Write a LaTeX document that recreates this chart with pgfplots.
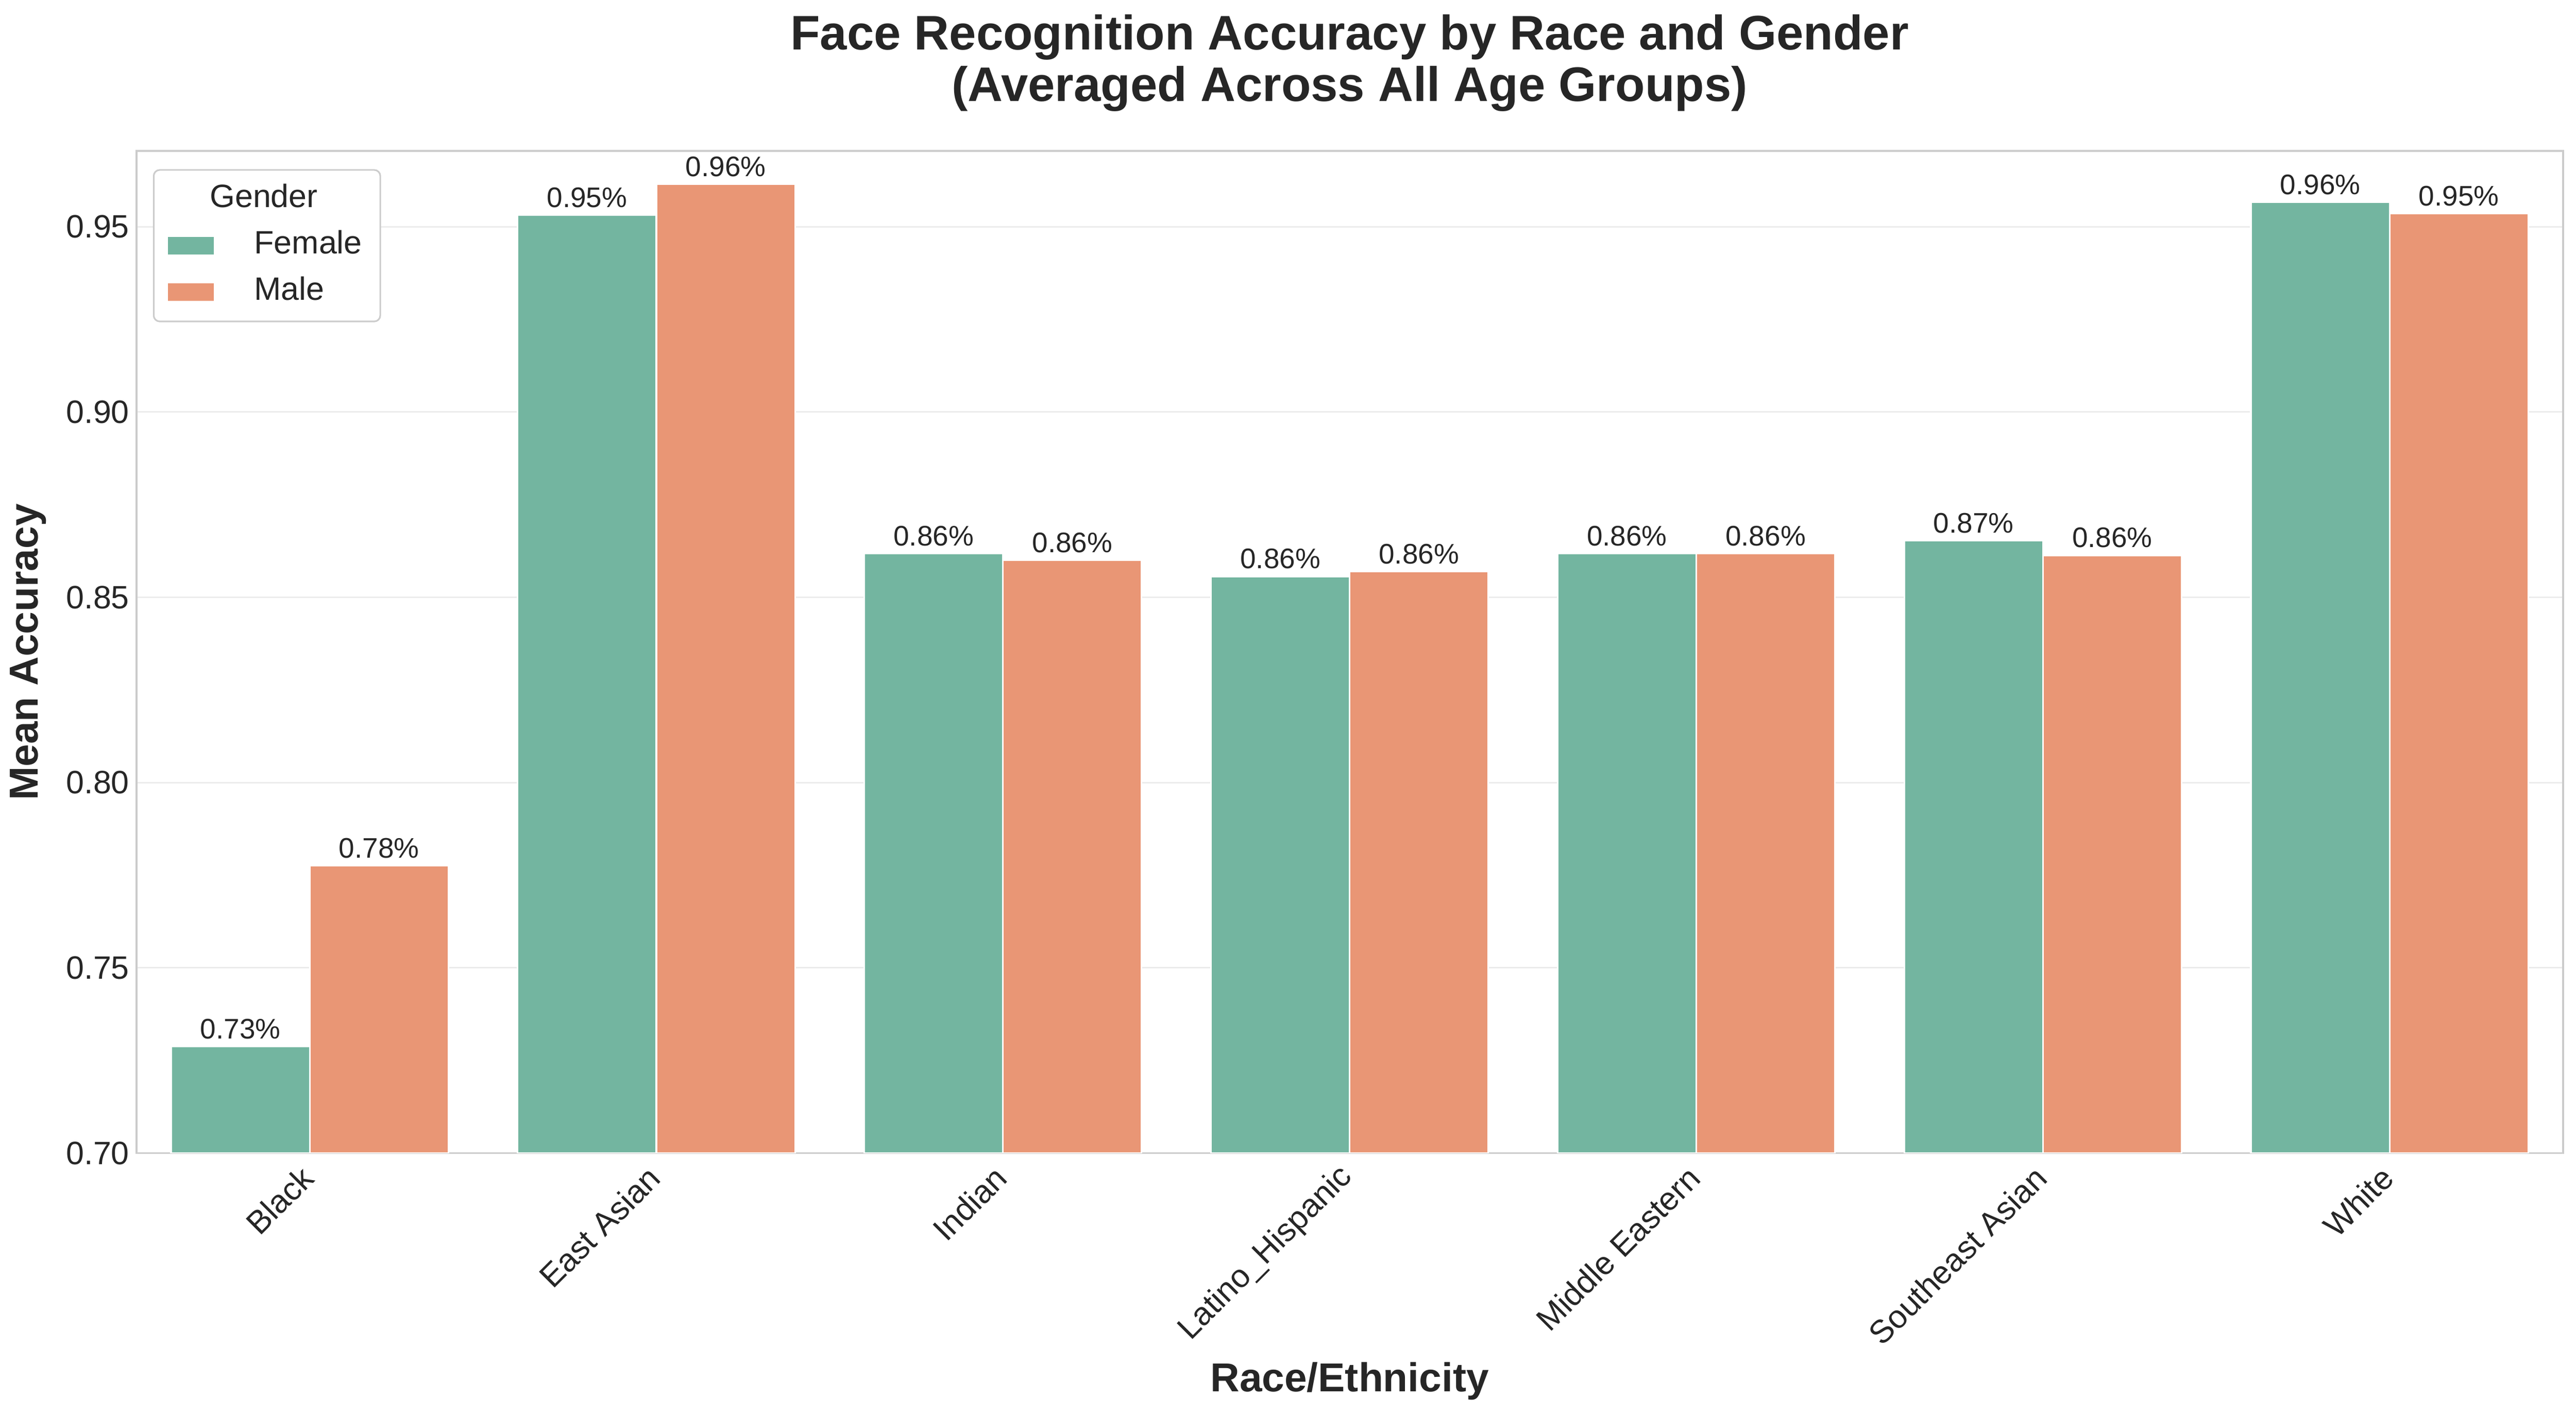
\documentclass[border=0pt]{standalone}
\usepackage{fontspec}
\setmainfont{Liberation Sans}
\usepackage{pgfplots}
\usepackage{pgfplotstable}
\pgfplotsset{compat=1.18}

\definecolor{fem}{RGB}{115,181,160}
\definecolor{mal}{RGB}{233,150,117}
\definecolor{txt}{RGB}{38,38,38}
\definecolor{framec}{RGB}{204,204,204}
\definecolor{gridc}{RGB}{236,236,236}

% mean accuracy per race, female / male
\pgfplotstableread{
x female male
0 0.7288 0.7776
1 0.9531 0.9615
2 0.8618 0.8600
3 0.8556 0.8569
4 0.8618 0.8618
5 0.8653 0.8613
6 0.9566 0.9535
}\acc

\begin{document}
\begin{tikzpicture}
\begin{axis}[
  width=1201pt, height=496pt, scale only axis,
  ybar=0pt, bar width=0.4,
  xmin=-0.5, xmax=6.5, ymin=0.7, ymax=0.9704,
  xtick={0,...,6},
  xticklabels={Black, East Asian, Indian, Latino\_Hispanic, Middle Eastern, Southeast Asian, White},
  ytick={0.70,0.75,...,0.96},
  yticklabel style={/pgf/number format/fixed, /pgf/number format/fixed zerofill, /pgf/number format/precision=2},
  /pgf/number format/assume math mode=true,
  major tick length=0pt,
  axis line style={framec, line width=1pt},
  ymajorgrids, grid style={gridc, line width=0.8pt},
  tick label style={font=\fontsize{16}{19}\selectfont, text=txt},
  xticklabel style={rotate=45, anchor=east, xshift=-4pt, yshift=-6pt},
  ylabel={Mean Accuracy},
  ylabel style={font=\fontsize{20}{24}\selectfont\bfseries, text=txt, at={(axis description cs:-0.0445,0.5)}, anchor=center},
  xlabel={Race/Ethnicity},
  xlabel style={font=\fontsize{20}{24}\selectfont\bfseries, text=txt, at={(axis description cs:0.5,0)}, anchor=center, yshift=-113pt},
  title={Face Recognition Accuracy by Race and Gender\\(Averaged Across All Age Groups)},
  title style={font=\fontsize{24}{25.5}\selectfont\bfseries, text=txt, align=center, at={(axis description cs:0.5,1)}, anchor=south, yshift=10pt},
  nodes near coords={\pgfmathprintnumber[fixed,fixed zerofill,precision=2]{\pgfplotspointmeta}\%},
  every node near coord/.append style={font=\fontsize{14}{17}\selectfont, text=txt},
  legend style={at={(axis description cs:0.0068,0.982)}, anchor=north west,
    draw=framec, line width=0.8pt, rounded corners=3pt, fill=white,
    font=\fontsize{16}{19}\selectfont, text=txt,
    inner xsep=7pt, inner ysep=5pt, column sep=-4pt, row sep=4pt,
    nodes={inner sep=2pt, text height=11.5pt, text depth=3.5pt}},
  legend cell align=left,
]
\addlegendimage{empty legend}
\addlegendentry[xshift=-22pt]{Gender}
\addplot[fill=fem, draw=white, line width=0.8pt, bar shift=-0.2,
  legend image code/.code={\fill[fem, sharp corners] (0pt,-4pt) rectangle (22pt,4pt);}]
  table[x=x, y=female] {\acc};
\addlegendentry{Female}
\addplot[fill=mal, draw=white, line width=0.8pt, bar shift=0.2,
  legend image code/.code={\fill[mal, sharp corners] (0pt,-4pt) rectangle (22pt,4pt);}]
  table[x=x, y=male] {\acc};
\addlegendentry{Male}
\end{axis}
\pgfresetboundingbox
\path[use as bounding box] ([xshift=-67.5pt,yshift=-129pt]current axis.south west) rectangle ([xshift=6.5pt,yshift=74.8pt]current axis.north east);
\end{tikzpicture}
\end{document}
